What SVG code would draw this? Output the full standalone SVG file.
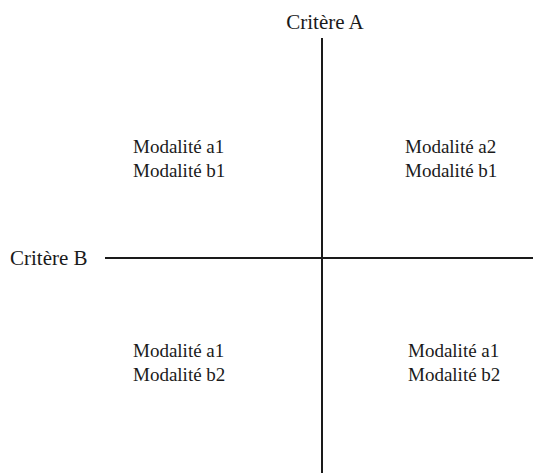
<svg xmlns="http://www.w3.org/2000/svg" width="533" height="473" viewBox="0 0 533 473">
<style>
text{font-family:'Liberation Serif','DejaVu Serif',serif;font-size:19px;fill:#1a1a1a}
.cr{font-size:21px}
.ax{stroke:#1a1a1a;stroke-width:2;fill:none}
</style>
<rect width="533" height="473" fill="#fff"/>
<g id="connectors">
<line class="ax" x1="322" y1="38" x2="322" y2="473"/>
<line class="ax" x1="105" y1="258" x2="533" y2="258"/>
</g>
<g id="critere-a"><text class="cr" x="325" y="29" text-anchor="middle">Critère A</text></g>
<g id="critere-b"><text class="cr" x="10" y="265">Critère B</text></g>
<g id="q1"><text x="133" y="153">Modalité a1</text><text x="133" y="177">Modalité b1</text></g>
<g id="q2"><text x="405" y="153">Modalité a2</text><text x="405" y="177">Modalité b1</text></g>
<g id="q3"><text x="133" y="357">Modalité a1</text><text x="133" y="381">Modalité b2</text></g>
<g id="q4"><text x="408" y="357">Modalité a1</text><text x="408" y="381">Modalité b2</text></g>
</svg>
